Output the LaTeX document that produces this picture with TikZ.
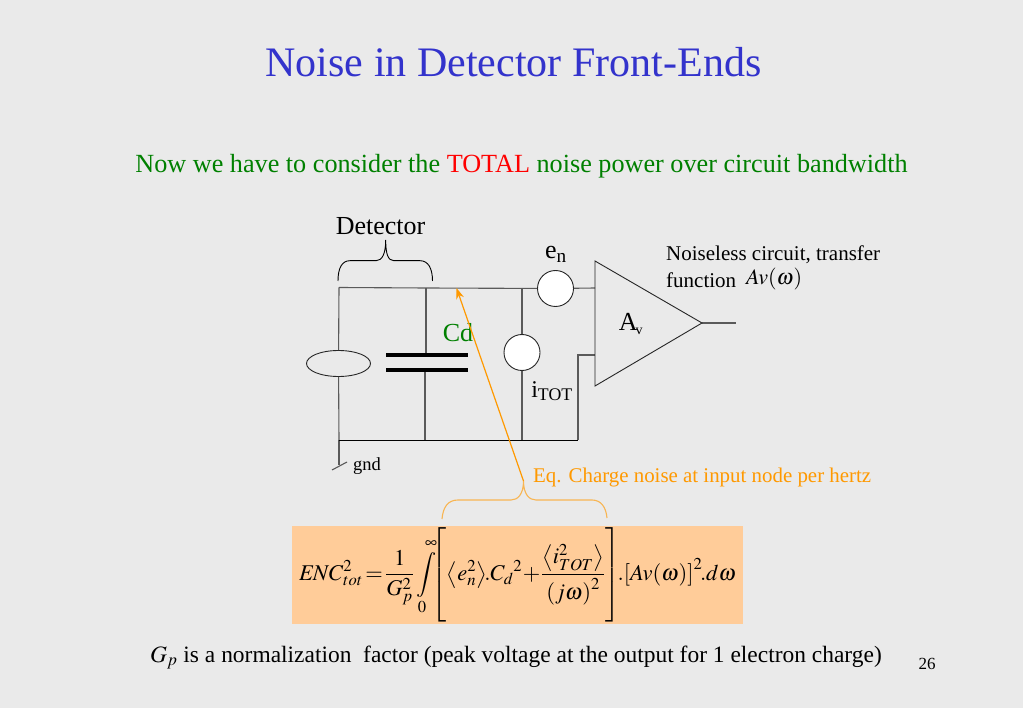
\documentclass[tikz,border=0pt]{standalone}
\usepackage{mathptmx}
\usepackage[no-math]{fontspec}
\usepackage{amsmath}
\setmainfont{Liberation Serif}
\usepackage{tikz}
\usetikzlibrary{positioning,arrows.meta,shapes.geometric}
\definecolor{slidebg}{RGB}{234,234,234}
\definecolor{titleblue}{RGB}{51,51,204}
\definecolor{notegreen}{RGB}{0,128,0}
\definecolor{noteorange}{RGB}{255,153,0}
\definecolor{eqpeach}{RGB}{255,204,153}
\definecolor{wiregray}{RGB}{90,90,90}
\tikzstyle{wire}   = [draw=wiregray, line width=1.1pt]
\tikzstyle{source} = [circle, draw=black!85, fill=white, line width=0.9pt, minimum size=36pt, inner sep=0pt]
\tikzstyle{label}  = [inner sep=0pt, text=black, font=\fontsize{26}{26}\selectfont]
\tikzstyle{arrow}  = [draw=noteorange, line width=1.2pt, -{Stealth[length=11pt,width=8pt]}]

\begin{document}
\begin{tikzpicture}[x=1pt,y=-1pt]
	\fill[slidebg] (0,0) rectangle (1023,708);
	\useasboundingbox (0,0) rectangle (1023,708);

	% headings
	\node[inner sep=0pt, text=titleblue, font=\fontsize{42}{42}\selectfont] (title) at (513.5,62) {Noise in Detector Front-Ends};
	\node[inner sep=0pt, text=notegreen, font=\fontsize{26.2}{26}\selectfont] (subtitle) at (521.5,166.5) {Now we have to consider the \textcolor{red}{TOTAL} noise power over circuit bandwidth};

	% junctions
	\coordinate (topl) at (339,287.5);
	\coordinate (topc) at (426,288);
	\coordinate (topi) at (522,288);
	\coordinate (botl) at (339,440.5);
	\coordinate (botc) at (425,440.5);
	\coordinate (boti) at (522,440.5);
	\coordinate (botr) at (578,440.5);
	\coordinate (inm) at (578,355);
	\coordinate (inmamp) at (595,355);
	\coordinate (inpamp) at (595,288);
	\coordinate (gnda) at (339,465);
	\coordinate (gndb) at (332,470);
	\coordinate (gndc) at (347,462);
	\coordinate (ampa) at (595,261);
	\coordinate (ampb) at (595,386);
	\coordinate (ampc) at (702,323);
	\coordinate (ampout) at (736,323);
	\coordinate (capa) at (426,355.5);
	\coordinate (capb) at (425,370);

	% sources
	\node[ellipse, draw=black!85, fill=slidebg, line width=0.9pt, minimum width=64pt, minimum height=26pt, inner sep=0pt] (diode) at (338.5,363.5) {};
	\node[source] (en) at (555.5,288.5) {};
	\node[source] (itot) at (522,352.5) {};

	% wires
	\draw[wire] (topl) -- (diode);
	\draw[wire] (diode) -- (botl);
	\draw[wire] (topl) -- (topc) -- (en);
	\draw[wire] (en) -- (inpamp);
	\draw[wire] (topc) -- (capa);
	\draw[wire] (capb) -- (botc);
	\draw[wire] (topi) -- (itot);
	\draw[wire] (itot) -- (boti);
	\draw[wire] (botr) -- (inm) -- (inmamp);
	\draw[wire] (botl) -- (gnda);
	\draw[draw=black, line width=1pt] (botl) -- (botr);
	\draw[wire] (gndb) -- (gndc);
	\draw[wire] (ampc) -- (ampout);
	\draw[draw=black!85, line width=0.9pt] (ampa) -- (ampb) -- (ampc) -- cycle;

	% capacitor plates
	\draw[line width=4pt] (386,355.5) -- (468,355.5);
	\draw[line width=4pt] (386,370) -- (468,370);

	% circuit labels
	\node[label] (detector) at (380.5,226) {Detector};
	\node[label] (enlabel) at (556,254) {e\textsubscript{n}};
	\node[label, text=notegreen] (cd) at (458,333) {Cd};
	\node[label, font=\fontsize{24}{24}\selectfont] (itotlabel) at (552,391) {i\textsubscript{TOT}};
	\node[label] (avlabel) at (631,324) {A\textsubscript{\kern-2pt\fontsize{14}{14}\selectfont v}};
	\node[label, font=\fontsize{18.5}{18}\selectfont] (gnd) at (367,466.5) {gnd};
	\node[label, anchor=west, font=\fontsize{21}{21}\selectfont] (noiseless) at (666,255) {Noiseless circuit, transfer};
	\node[label, anchor=west, font=\fontsize{21}{21}\selectfont] (function) at (666,280.5) {function};
	\node[label, anchor=west, font=\fontsize{22}{22}\selectfont] (avomega) at (746,279.5) {$Av(\omega)$};

	% detector brace
	\coordinate (detl) at (338,281);
	\coordinate (detr) at (432.5,281);
	\coordinate (dettip) at (385.7,240);
	\draw[line width=0.9pt] (detl) .. controls (338,268) and (342,260.7) .. (350,260.7)
		-- (376,260.7) .. controls (382,260.7) and (385.7,254) .. (dettip)
		.. controls (385.7,254) and (388,260.7) .. (394,260.7)
		-- (420,260.7) .. controls (428,260.7) and (432.5,268) .. (detr);

	% equivalent charge note
	\node[inner sep=0pt, anchor=west, text=noteorange, font=\fontsize{20.9}{21}\selectfont] (eqnote) at (533,477.5) {Eq. Charge noise at input node per hertz};
	\coordinate (notel) at (442,519);
	\coordinate (noter) at (607,518);
	\coordinate (notetip) at (523.5,481);
	\coordinate (arrowend) at (456.5,288);
	\draw[draw=noteorange!65!slidebg, line width=1.1pt] (notel) .. controls (443,507) and (448,500) .. (458,500)
		-- (511,500) .. controls (518,500) and (523.5,494) .. (notetip)
		.. controls (523.5,494) and (529,500) .. (536,500)
		-- (592,500) .. controls (601,500) and (606,507) .. (noter);
	\draw[arrow] (notetip) -- (arrowend);

	% formula
	\node[fill=eqpeach, minimum width=451pt, minimum height=98pt, inner sep=0pt] (formula) at (517.5,575)
		{\fontsize{22.5}{27}\selectfont $\mathit{ENC}_{tot}^{2}\! =\! \dfrac{1}{G_p^{2}}\displaystyle\int\limits_{0}^{\infty}\!\!\!\left[\vrule height 42pt depth 42pt width 0pt\left\langle e_n^{2}\right\rangle\!\! .C_d{}^{2}\! +\! \dfrac{\left\langle i_{TOT}^{2}\right\rangle}{\left(j\omega\right)^{2}}\right]\!\!.\!\left[Av(\omega)\right]^{2}\!\!.d\omega$};

	% footer
	\node[inner sep=0pt, anchor=west, font=\fontsize{23.45}{23}\selectfont] (gpnote) at (150,657.5) {$G_p$ is a normalization\ \ factor (peak voltage at the output for 1 electron charge)};
	\node[inner sep=0pt, font=\fontsize{17}{17}\selectfont] (pageno) at (927,664) {26};
\end{tikzpicture}
\end{document}
